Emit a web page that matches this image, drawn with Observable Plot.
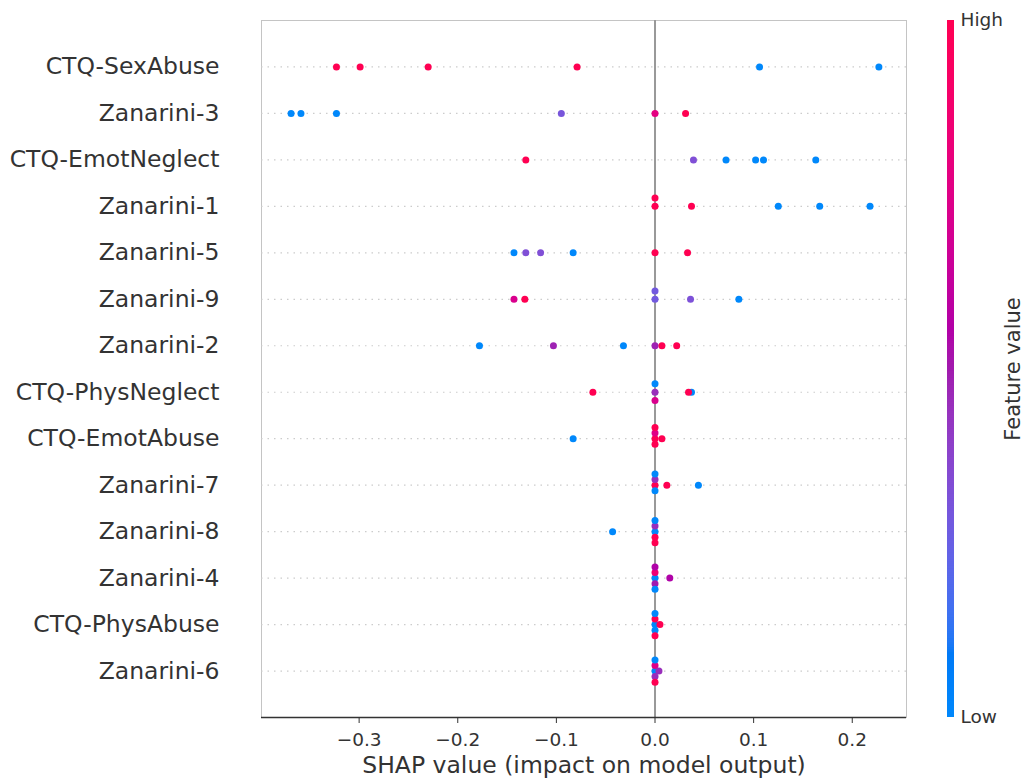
<!DOCTYPE html>
<html>
<head>
<meta charset="utf-8">
<script src="https://cdn.jsdelivr.net/npm/d3@7"></script>
<script src="https://cdn.jsdelivr.net/npm/@observablehq/plot@0.6"></script>
<style>
  body { margin: 0; background: #fff; }
  #chart { position: relative; width: 1026px; height: 779px; }
  #chart svg { position: absolute; left: 0; top: 0; }
</style>
</head>
<body>
<div id="chart"></div>
<script>
// Features, top to bottom
const features = [
  "CTQ-SexAbuse", "Zanarini-3", "CTQ-EmotNeglect", "Zanarini-1", "Zanarini-5",
  "Zanarini-9", "Zanarini-2", "CTQ-PhysNeglect", "CTQ-EmotAbuse", "Zanarini-7",
  "Zanarini-8", "Zanarini-4", "CTQ-PhysAbuse", "Zanarini-6"
];

// SHAP values per feature (one list per feature, same order as features)
const shapValues = [
  [-0.323, -0.299, -0.230, -0.079, 0.106, 0.227],
  [-0.369, -0.359, -0.323, -0.095, 0.000, 0.031],
  [-0.131, 0.039, 0.072, 0.102, 0.110, 0.163],
  [0.000, 0.000, 0.037, 0.125, 0.167, 0.218],
  [-0.143, -0.131, -0.116, -0.083, 0.000, 0.033],
  [-0.143, -0.132, 0.000, 0.000, 0.036, 0.085],
  [-0.178, -0.103, -0.032, 0.000, 0.007, 0.022],
  [-0.063, 0.000, 0.000, 0.000, 0.037, 0.034],
  [-0.083, 0.000, 0.000, 0.000, 0.000, 0.007],
  [0.000, 0.000, 0.000, 0.000, 0.012, 0.044],
  [-0.043, 0.000, 0.000, 0.000, 0.000, 0.000],
  [0.000, 0.000, 0.000, 0.000, 0.000, 0.015],
  [0.000, 0.000, 0.000, 0.000, 0.000, 0.005],
  [0.000, 0.000, 0.000, 0.000, 0.000, 0.004]
];

// Normalised feature values (0 = low, 1 = high), matching shapValues
const featureValues = [
  [1, 1, 1, 1, 0, 0],
  [0, 0, 0, 0.3, 0.78, 1],
  [1, 0.33, 0, 0, 0, 0],
  [1, 1, 1, 0, 0, 0],
  [0, 0.33, 0.33, 0, 1, 1],
  [0.72, 1, 0.28, 0.28, 0.32, 0],
  [0, 0.48, 0, 0.48, 1, 1],
  [1, 0.45, 0, 0.72, 0, 1],
  [0, 1, 0.75, 1, 1, 1],
  [1, 0.45, 0, 0, 1, 0],
  [0, 0, 0.45, 1, 0, 1],
  [0, 0.85, 0.5, 0.55, 0, 0.55],
  [0, 1, 0, 0, 1, 1],
  [0, 0.75, 0.45, 0, 1, 0.45]
];

const xTicks = [-0.3, -0.2, -0.1, 0.0, 0.1, 0.2];
const xLabel = "SHAP value (impact on model output)";
const colorLabel = "Feature value";
const colorTickLabels = ["Low", "High"];

// shap's red_blue map: LCh from blue to red, lightness dipping in the middle
const blueLch = [54, 70, 266.93];
const redLch = [54, 90, 380.32];
const midL = 40;
const redBlue = t => {
  const l = t < 0.5 ? blueLch[0] + (midL - blueLch[0]) * (t / 0.5)
                    : midL + (redLch[0] - midL) * ((t - 0.5) / 0.5);
  const c = blueLch[1] + (redLch[1] - blueLch[1]) * t;
  const h = blueLch[2] + (redLch[2] - blueLch[2]) * t;
  return d3.hcl(h % 360, c, l).formatHex();
};

// Beeswarm layout (same rule as shap's summary plot)
const nF = features.length;
const points = [];
features.forEach((name, i) => {
  const s = shapValues[i], f = featureValues[i];
  const mn = d3.min(s), mx = d3.max(s);
  const quant = s.map(v => Math.round(100 * (v - mn) / (mx - mn + 1e-8)));
  const inds = d3.range(s.length).sort((a, b) => (quant[a] - quant[b]) || (a - b));
  const ys = new Array(s.length).fill(0);
  let layer = 0, last = -1;
  for (const k of inds) {
    if (quant[k] !== last) layer = 0;
    ys[k] = Math.ceil(layer / 2) * ((layer % 2) * 2 - 1);
    layer++;
    last = quant[k];
  }
  const sc = 0.9 * 0.4 / (d3.max(ys) + 1);
  s.forEach((v, k) => points.push({
    feature: name, shap: v, value: f[k], pos: (nF - 1 - i) + ys[k] * sc
  }));
});

const colorScale = {type: "linear", domain: [0, 1], interpolate: redBlue};
const font = "DejaVu Sans";

const main = Plot.plot({
  width: 1026,
  height: 779,
  marginLeft: 261,
  marginRight: 120,
  marginTop: 20,
  marginBottom: 62,
  style: {fontFamily: font, color: "#333", background: "transparent"},
  x: {domain: [-0.399, 0.255]},
  y: {domain: [-1, nF]},
  color: colorScale,
  marks: [
    Plot.frame({stroke: "#c4c4c4"}),
    Plot.ruleY(d3.range(nF), {stroke: "#cccccc", strokeDasharray: "1.5,5", strokeWidth: 1.2}),
    Plot.ruleX([0], {stroke: "#999999", strokeWidth: 2}),
    Plot.dot(points, {x: "shap", y: "pos", fill: "value", r: 3.5}),
    Plot.ruleY([-1], {stroke: "#333", strokeWidth: 1.3}),
    Plot.axisX({ticks: xTicks, tickFormat: d3.format(".1f"), tickSize: 6, tickPadding: 9, fontSize: 18.5, label: null}),
    Plot.axisY({
      ticks: d3.range(nF),
      tickFormat: i => features[nF - 1 - i],
      tickSize: 0, tickPadding: 42, fontSize: 23.5, label: null
    }),
    Plot.text([xLabel], {text: d => d, frameAnchor: "bottom", lineAnchor: "top", dy: 39, fontSize: 23.5, fill: "#333"})
  ]
});

const nSteps = 300;
const bar = Plot.plot({
  width: 1026,
  height: 779,
  marginLeft: 947,
  marginRight: 72,
  marginTop: 20,
  marginBottom: 62,
  style: {fontFamily: font, color: "#333", background: "transparent"},
  x: {domain: [0, 1], axis: null},
  y: {domain: [0, 1], axis: null},
  color: colorScale,
  marks: [
    Plot.rect(d3.range(nSteps), {
      x1: () => 0, x2: () => 1,
      y1: i => i / nSteps, y2: i => Math.min(1, (i + 1.6) / nSteps),
      fill: i => (i + 0.5) / nSteps
    }),
    Plot.text([colorTickLabels[1]], {text: d => d, x: () => 1, y: () => 1, dx: 6, textAnchor: "start", fontSize: 18.5, fill: "#333"}),
    Plot.text([colorTickLabels[0]], {text: d => d, x: () => 1, y: () => 0, dx: 6, textAnchor: "start", fontSize: 18.5, fill: "#333"}),
    Plot.text([colorLabel], {text: d => d, x: () => 1, y: () => 0.5, dx: 59, rotate: -90, fontSize: 21, fill: "#333"})
  ]
});

const chart = document.getElementById("chart");
chart.appendChild(main);
chart.appendChild(bar);
</script>
</body>
</html>
